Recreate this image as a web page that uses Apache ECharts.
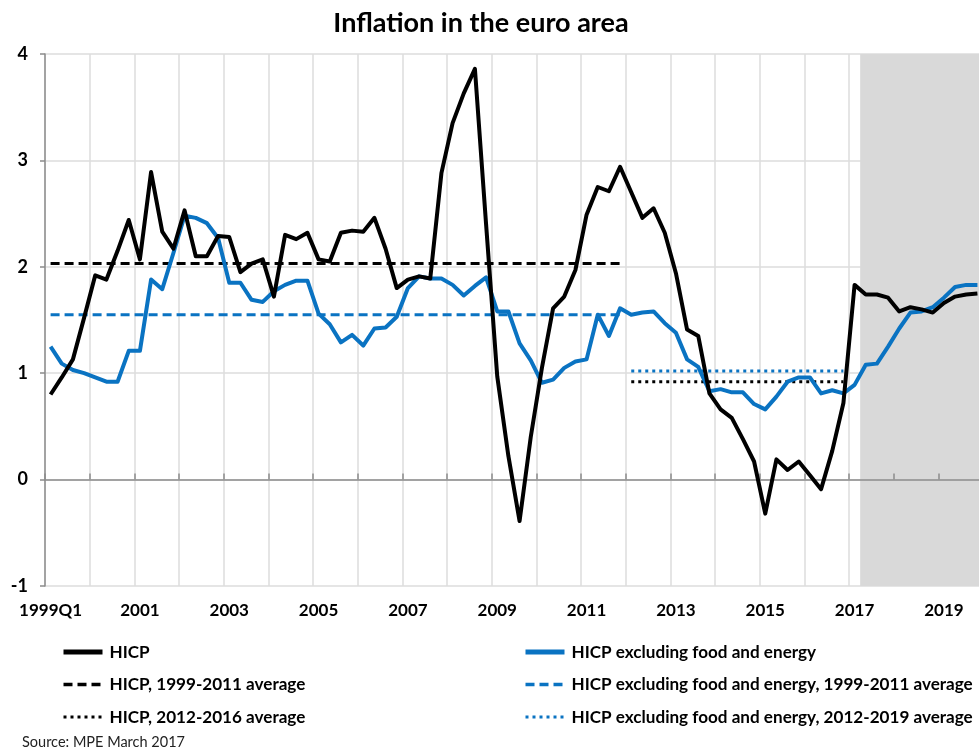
<!DOCTYPE html>
<html>
<head>
<meta charset="utf-8">
<title>Inflation in the euro area</title>
<script src="https://cdn.jsdelivr.net/npm/echarts@6/dist/echarts.min.js"></script>
<style>
  html, body { margin: 0; padding: 0; background: #fff; }
  #chart { width: 979px; height: 752px; }
</style>
</head>
<body>
<div id="chart"></div>
<script>
// quarters 1999Q1 .. 2019Q4
var quarters = [];
for (var yr = 1999; yr <= 2019; yr++) {
  for (var q = 1; q <= 4; q++) quarters.push(yr + 'Q' + q);
}

// HICP, year-on-year % change
var hicp = [
  0.80, 0.96, 1.13, 1.52, 1.92, 1.88, 2.15, 2.44,
  2.07, 2.89, 2.33, 2.17, 2.53, 2.10, 2.10, 2.29,
  2.28, 1.95, 2.03, 2.07, 1.72, 2.30, 2.26, 2.32,
  2.07, 2.05, 2.32, 2.34, 2.33, 2.46, 2.17, 1.80,
  1.88, 1.91, 1.89, 2.88, 3.35, 3.63, 3.86, 2.40,
  0.97, 0.22, -0.39, 0.40, 1.05, 1.61, 1.72, 1.97,
  2.49, 2.75, 2.71, 2.94, 2.70, 2.46, 2.55, 2.32,
  1.94, 1.41, 1.35, 0.81, 0.66, 0.58, 0.38, 0.17,
  -0.32, 0.19, 0.09, 0.17, 0.04, -0.09, 0.27, 0.72,
  1.83, 1.74, 1.74, 1.71, 1.58, 1.62, 1.60, 1.57,
  1.66, 1.72, 1.74, 1.75
];

// HICP excluding food and energy
var hicpCore = [
  1.25, 1.09, 1.03, 1.00, 0.96, 0.92, 0.92, 1.21,
  1.21, 1.88, 1.79, 2.13, 2.48, 2.46, 2.41, 2.27,
  1.85, 1.85, 1.69, 1.67, 1.77, 1.83, 1.87, 1.87,
  1.56, 1.46, 1.29, 1.36, 1.26, 1.42, 1.43, 1.53,
  1.80, 1.91, 1.89, 1.89, 1.83, 1.73, 1.82, 1.90,
  1.58, 1.58, 1.28, 1.12, 0.91, 0.94, 1.05, 1.11,
  1.13, 1.55, 1.35, 1.61, 1.55, 1.57, 1.58, 1.47,
  1.38, 1.13, 1.06, 0.83, 0.85, 0.82, 0.82, 0.71,
  0.66, 0.78, 0.92, 0.96, 0.96, 0.81, 0.84, 0.81,
  0.89, 1.08, 1.09, 1.25, 1.42, 1.57, 1.58, 1.62,
  1.71, 1.81, 1.83, 1.83
];

// period averages and the quarters they are drawn over
var hicpAvg9911 = 2.03;
var coreAvg9911 = 1.55;
var hicpAvg1216 = 0.92;
var coreAvg1219 = 1.02;
var early = ['1999Q1', '2011Q4'];
var late = ['2012Q1', '2016Q4'];

var yTicks = [-1, 0, 1, 2, 3, 4];
var projectionFrom = '2017Q2';

function flat(val, span) {
  return quarters.map(function (qq) {
    return (qq >= span[0] && qq <= span[1]) ? val : null;
  });
}

var BLUE = '#0a73c2';
var FONT = 'Lato';
var DASH = [9, 5];
var DOT = [3, 4];

var myChart = echarts.init(document.getElementById('chart'));

var names = {
  hicp: 'HICP',
  core: 'HICP excluding food and energy',
  hAvg1: 'HICP, 1999-2011 average',
  cAvg1: 'HICP excluding food and energy, 1999-2011 average',
  hAvg2: 'HICP, 2012-2016 average',
  cAvg2: 'HICP excluding food and energy, 2012-2019 average'
};

var legendCommon = {
  orient: 'vertical',
  top: 643,
  padding: 0,
  itemWidth: 39,
  itemHeight: 14,
  itemGap: 14.5,
  itemStyle: { opacity: 0 },
  textStyle: { fontFamily: FONT, fontWeight: 'bold', fontSize: 17.1, color: '#000', lineHeight: 18, padding: [0, 0, 0, 2] }
};

var option = {
  animation: false,
  backgroundColor: '#fff',
  grid: { left: 45, right: -4, top: 54, bottom: 166, outerBoundsMode: 'none' },
  graphic: [
    { type: 'text', x: 481, y: 23,
      style: { text: 'Inflation in the euro area', font: 'bold 27px ' + FONT, fill: '#000', textAlign: 'center', textVerticalAlign: 'middle' } },
    { type: 'text', x: 22, y: 742,
      style: { text: 'Source: MPE March 2017', font: '14.5px ' + FONT, fill: '#222', textVerticalAlign: 'middle' } }
  ],
  legend: [
    Object.assign({}, legendCommon, { left: 61, data: [
      { name: names.hicp, lineStyle: { width: 5 } },
      { name: names.hAvg1, lineStyle: { width: 3.5, type: DASH } },
      { name: names.hAvg2, lineStyle: { width: 3, type: DOT } }
    ] }),
    Object.assign({}, legendCommon, { left: 523, data: [
      { name: names.core, lineStyle: { width: 5 } },
      { name: names.cAvg1, lineStyle: { width: 3.5, type: DASH } },
      { name: names.cAvg2, lineStyle: { width: 3, type: DOT } }
    ] })
  ],
  xAxis: [
    {
      type: 'category',
      data: quarters,
      boundaryGap: true,
      axisLine: { show: false, onZero: false },
      axisTick: { show: false },
      axisLabel: {
        interval: 7,
        margin: 16,
        color: '#000',
        fontFamily: FONT,
        fontWeight: 'bold',
        fontSize: 17,
        formatter: function (v, i) { return i === 0 ? v : v.slice(0, 4); }
      },
      splitLine: { show: true, interval: 3, lineStyle: { color: '#dcdcdc', width: 1.5 } }
    },
    {
      // zero line with year ticks
      type: 'value',
      position: 'bottom',
      min: 0,
      max: 84,
      interval: 4,
      z: 5,
      axisLine: { show: true, onZero: true, lineStyle: { color: '#8c8c8c', width: 1.5 } },
      axisTick: { show: true, inside: true, length: 6, lineStyle: { color: '#8c8c8c', width: 1.5 } },
      axisLabel: { show: false },
      splitLine: { show: false }
    }
  ],
  yAxis: {
    type: 'value',
    min: yTicks[0],
    max: yTicks[yTicks.length - 1],
    interval: 1,
    axisLine: { show: true, onZero: false, lineStyle: { color: '#8c8c8c', width: 1.5 } },
    axisTick: { show: true, length: 5, lineStyle: { color: '#8c8c8c', width: 1.5 } },
    axisLabel: { color: '#000', fontFamily: FONT, fontWeight: 'bold', fontSize: 18, margin: 17 },
    splitLine: { show: true, lineStyle: { color: '#dcdcdc', width: 1.5 } }
  },
  series: [
    {
      // projection shading
      type: 'line',
      xAxisIndex: 1,
      data: [],
      z: 1,
      silent: true,
      markArea: {
        silent: true,
        itemStyle: { color: '#d9d9d9' },
        data: [[{ xAxis: quarters.indexOf(projectionFrom) }, { xAxis: quarters.length }]]
      }
    },
    {
      name: names.hAvg1, type: 'line', data: flat(hicpAvg9911, early), symbol: 'none', z: 6,
      lineStyle: { color: '#000', width: 3, type: DASH }, itemStyle: { color: '#000' }
    },
    {
      name: names.cAvg1, type: 'line', data: flat(coreAvg9911, early), symbol: 'none', z: 6,
      lineStyle: { color: BLUE, width: 3, type: DASH }, itemStyle: { color: BLUE }
    },
    {
      name: names.hAvg2, type: 'line', data: flat(hicpAvg1216, late), symbol: 'none', z: 6,
      lineStyle: { color: '#000', width: 3, type: DOT }, itemStyle: { color: '#000' }
    },
    {
      name: names.cAvg2, type: 'line', data: flat(coreAvg1219, late), symbol: 'none', z: 6,
      lineStyle: { color: BLUE, width: 3, type: DOT }, itemStyle: { color: BLUE }
    },
    {
      name: names.core, type: 'line', data: hicpCore, symbol: 'none', z: 7,
      lineStyle: { color: BLUE, width: 4, join: 'round' }, itemStyle: { color: BLUE }
    },
    {
      name: names.hicp, type: 'line', data: hicp, symbol: 'none', z: 8,
      lineStyle: { color: '#000', width: 4, join: 'round' }, itemStyle: { color: '#000' }
    }
  ]
};

myChart.setOption(option);
window.onresize = function () { myChart.resize(); };
</script>
</body>
</html>
